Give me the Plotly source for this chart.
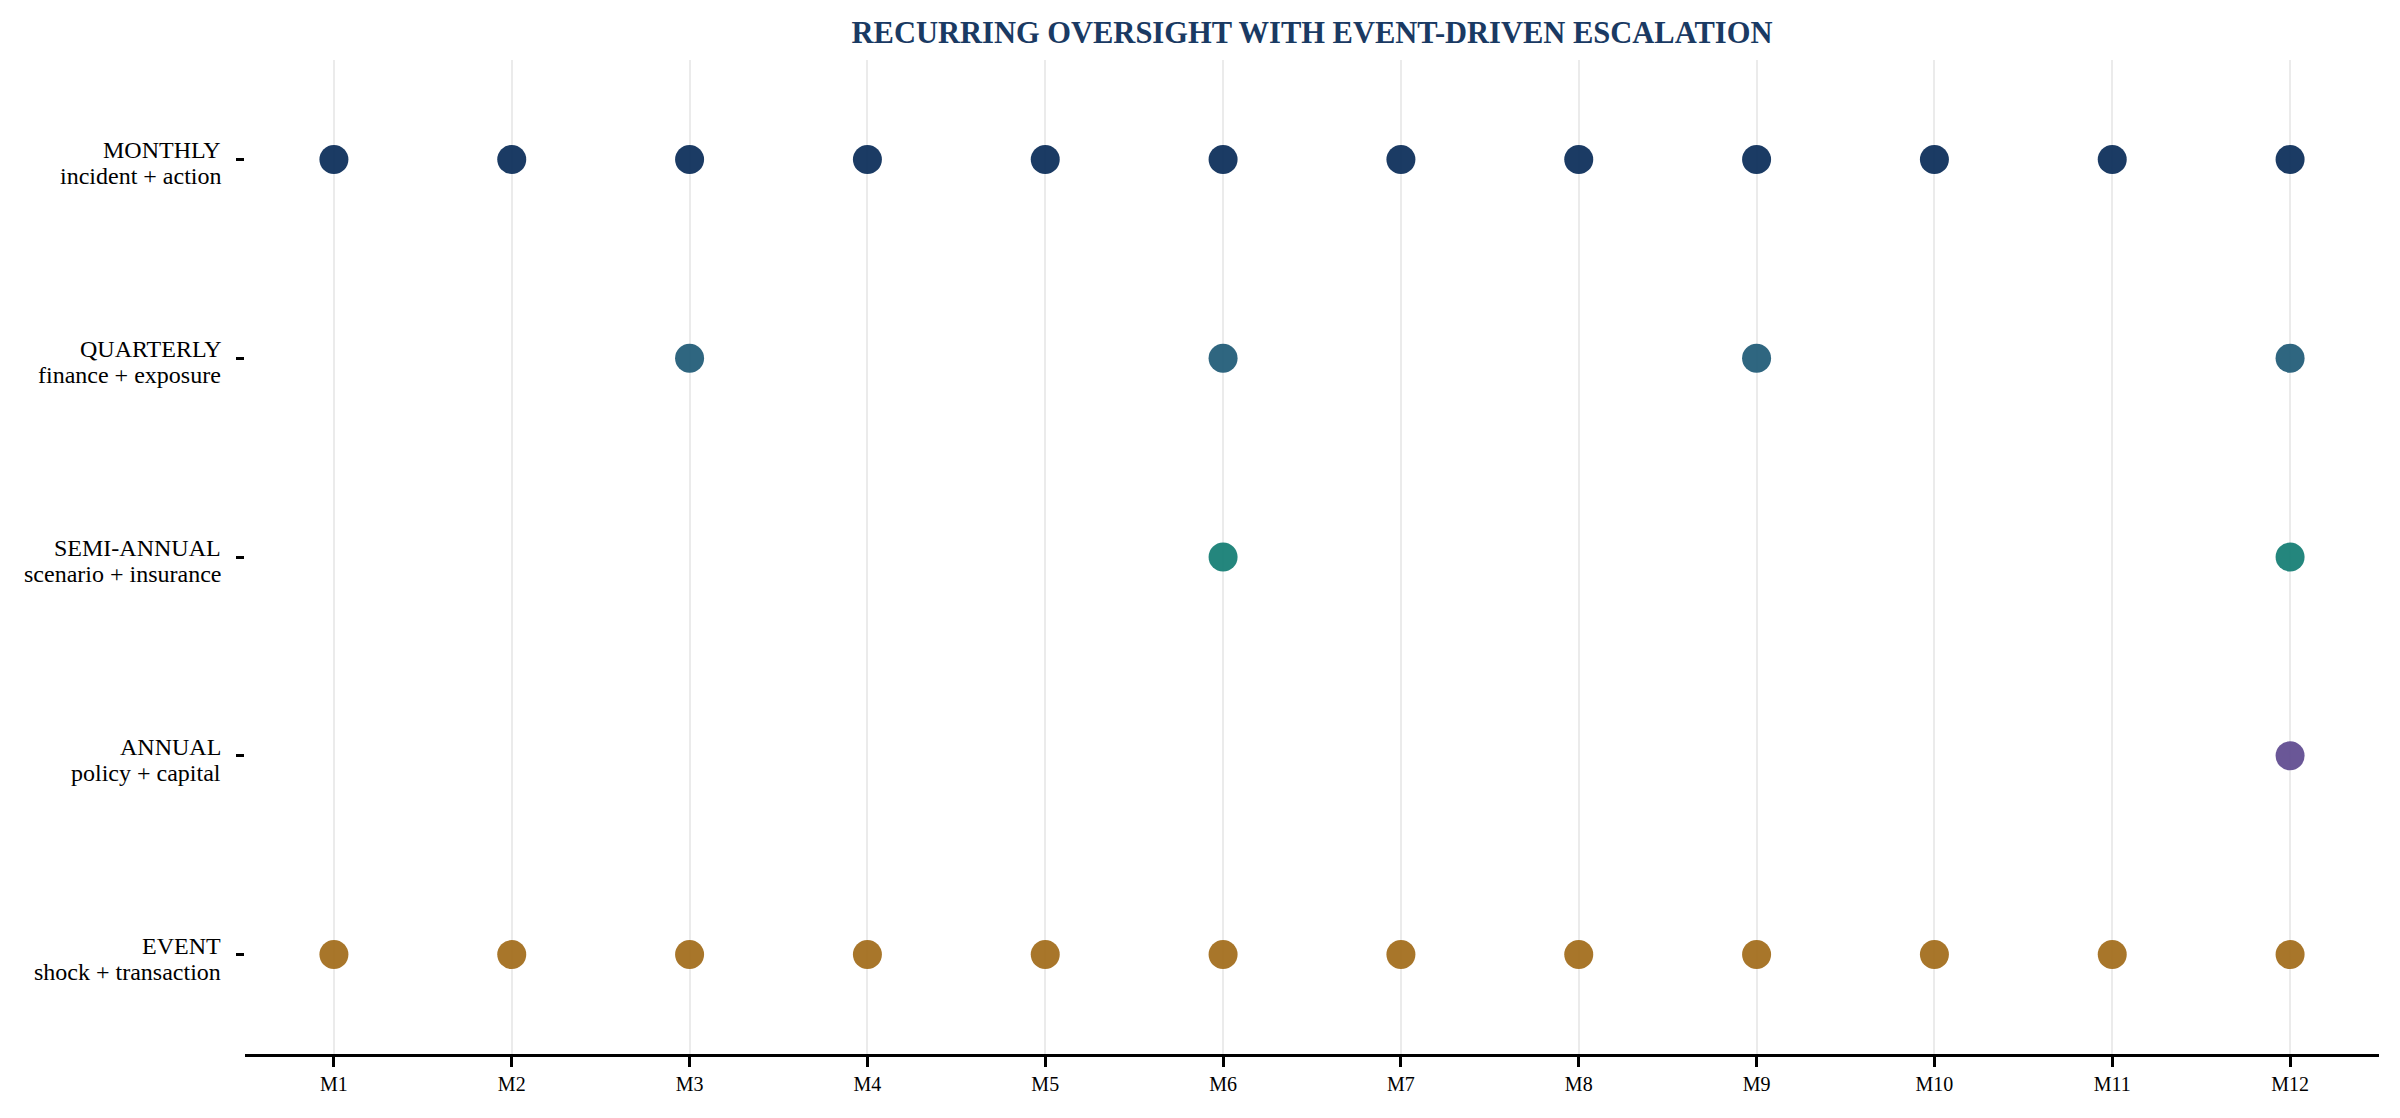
import plotly.graph_objects as go

# months on the x axis
months = [f"M{i}" for i in range(1, 13)]

# review tracks, top to bottom
tracks = ["MONTHLY", "QUARTERLY", "SEMI-ANNUAL", "ANNUAL", "EVENT"]
track_notes = ["incident + action", "finance + exposure", "scenario + insurance",
               "policy + capital", "shock + transaction"]

# months in which each track is reviewed
monthly_months = months
quarterly_months = ["M3", "M6", "M9", "M12"]
semiannual_months = ["M6", "M12"]
annual_months = ["M12"]
event_months = months

track_colors = ["#0f305c", "#245e79", "#187f76", "#624e91", "#a36f1f"]

fig = go.Figure()

schedule = [monthly_months, quarterly_months, semiannual_months, annual_months, event_months]
for name, hits, col in zip(tracks, schedule, track_colors):
    fig.add_trace(go.Scatter(
        x=hits,
        y=[name] * len(hits),
        mode="markers",
        marker=dict(size=29, color=col, opacity=0.95, line=dict(width=0)),
        name=name,
        hoverinfo="x+y",
    ))

# two-line y labels, drawn as annotations to get the tighter line spacing
label_font = dict(size=24, color="black", family="Liberation Serif, Times New Roman, serif")
for t, n in zip(tracks, track_notes):
    for txt, shift in [(t, 9), (n, -17)]:
        fig.add_annotation(
            x=0, xref="paper", xanchor="right", xshift=-22,
            y=t, yref="y", yanchor="middle", yshift=shift,
            text=txt, showarrow=False, font=label_font,
        )

fig.update_layout(
    width=2384,
    height=1102,
    paper_bgcolor="white",
    plot_bgcolor="white",
    showlegend=False,
    font=dict(family="Liberation Serif, Times New Roman, serif", color="black"),
    title=dict(
        text="<b>RECURRING OVERSIGHT WITH EVENT-DRIVEN ESCALATION</b>",
        x=0.5, xref="paper", xanchor="center",
        y=0.978, yref="container", yanchor="middle",
        font=dict(size=30.5, color="#1a3a63", family="Liberation Serif, Times New Roman, serif"),
    ),
    margin=dict(l=237, r=13, t=52, b=56),
    xaxis=dict(
        type="category",
        categoryorder="array",
        categoryarray=months,
        range=[-0.5, 11.5],
        showgrid=True,
        gridcolor="#ebebeb",
        gridwidth=2,
        zeroline=False,
        showline=True,
        linecolor="black",
        linewidth=2.5,
        ticks="outside",
        ticklen=10,
        tickwidth=2.5,
        tickcolor="black",
        tickfont=dict(size=20, color="black"),
    ),
    yaxis=dict(
        type="category",
        categoryorder="array",
        categoryarray=tracks[::-1],
        range=[-0.5, 4.5],
        tickvals=tracks,
        showticklabels=False,
        showgrid=False,
        zeroline=False,
        showline=False,
        ticks="outside",
        ticklen=8,
        tickwidth=2.5,
        tickcolor="black",
    ),
)

fig.write_html("out.html")
